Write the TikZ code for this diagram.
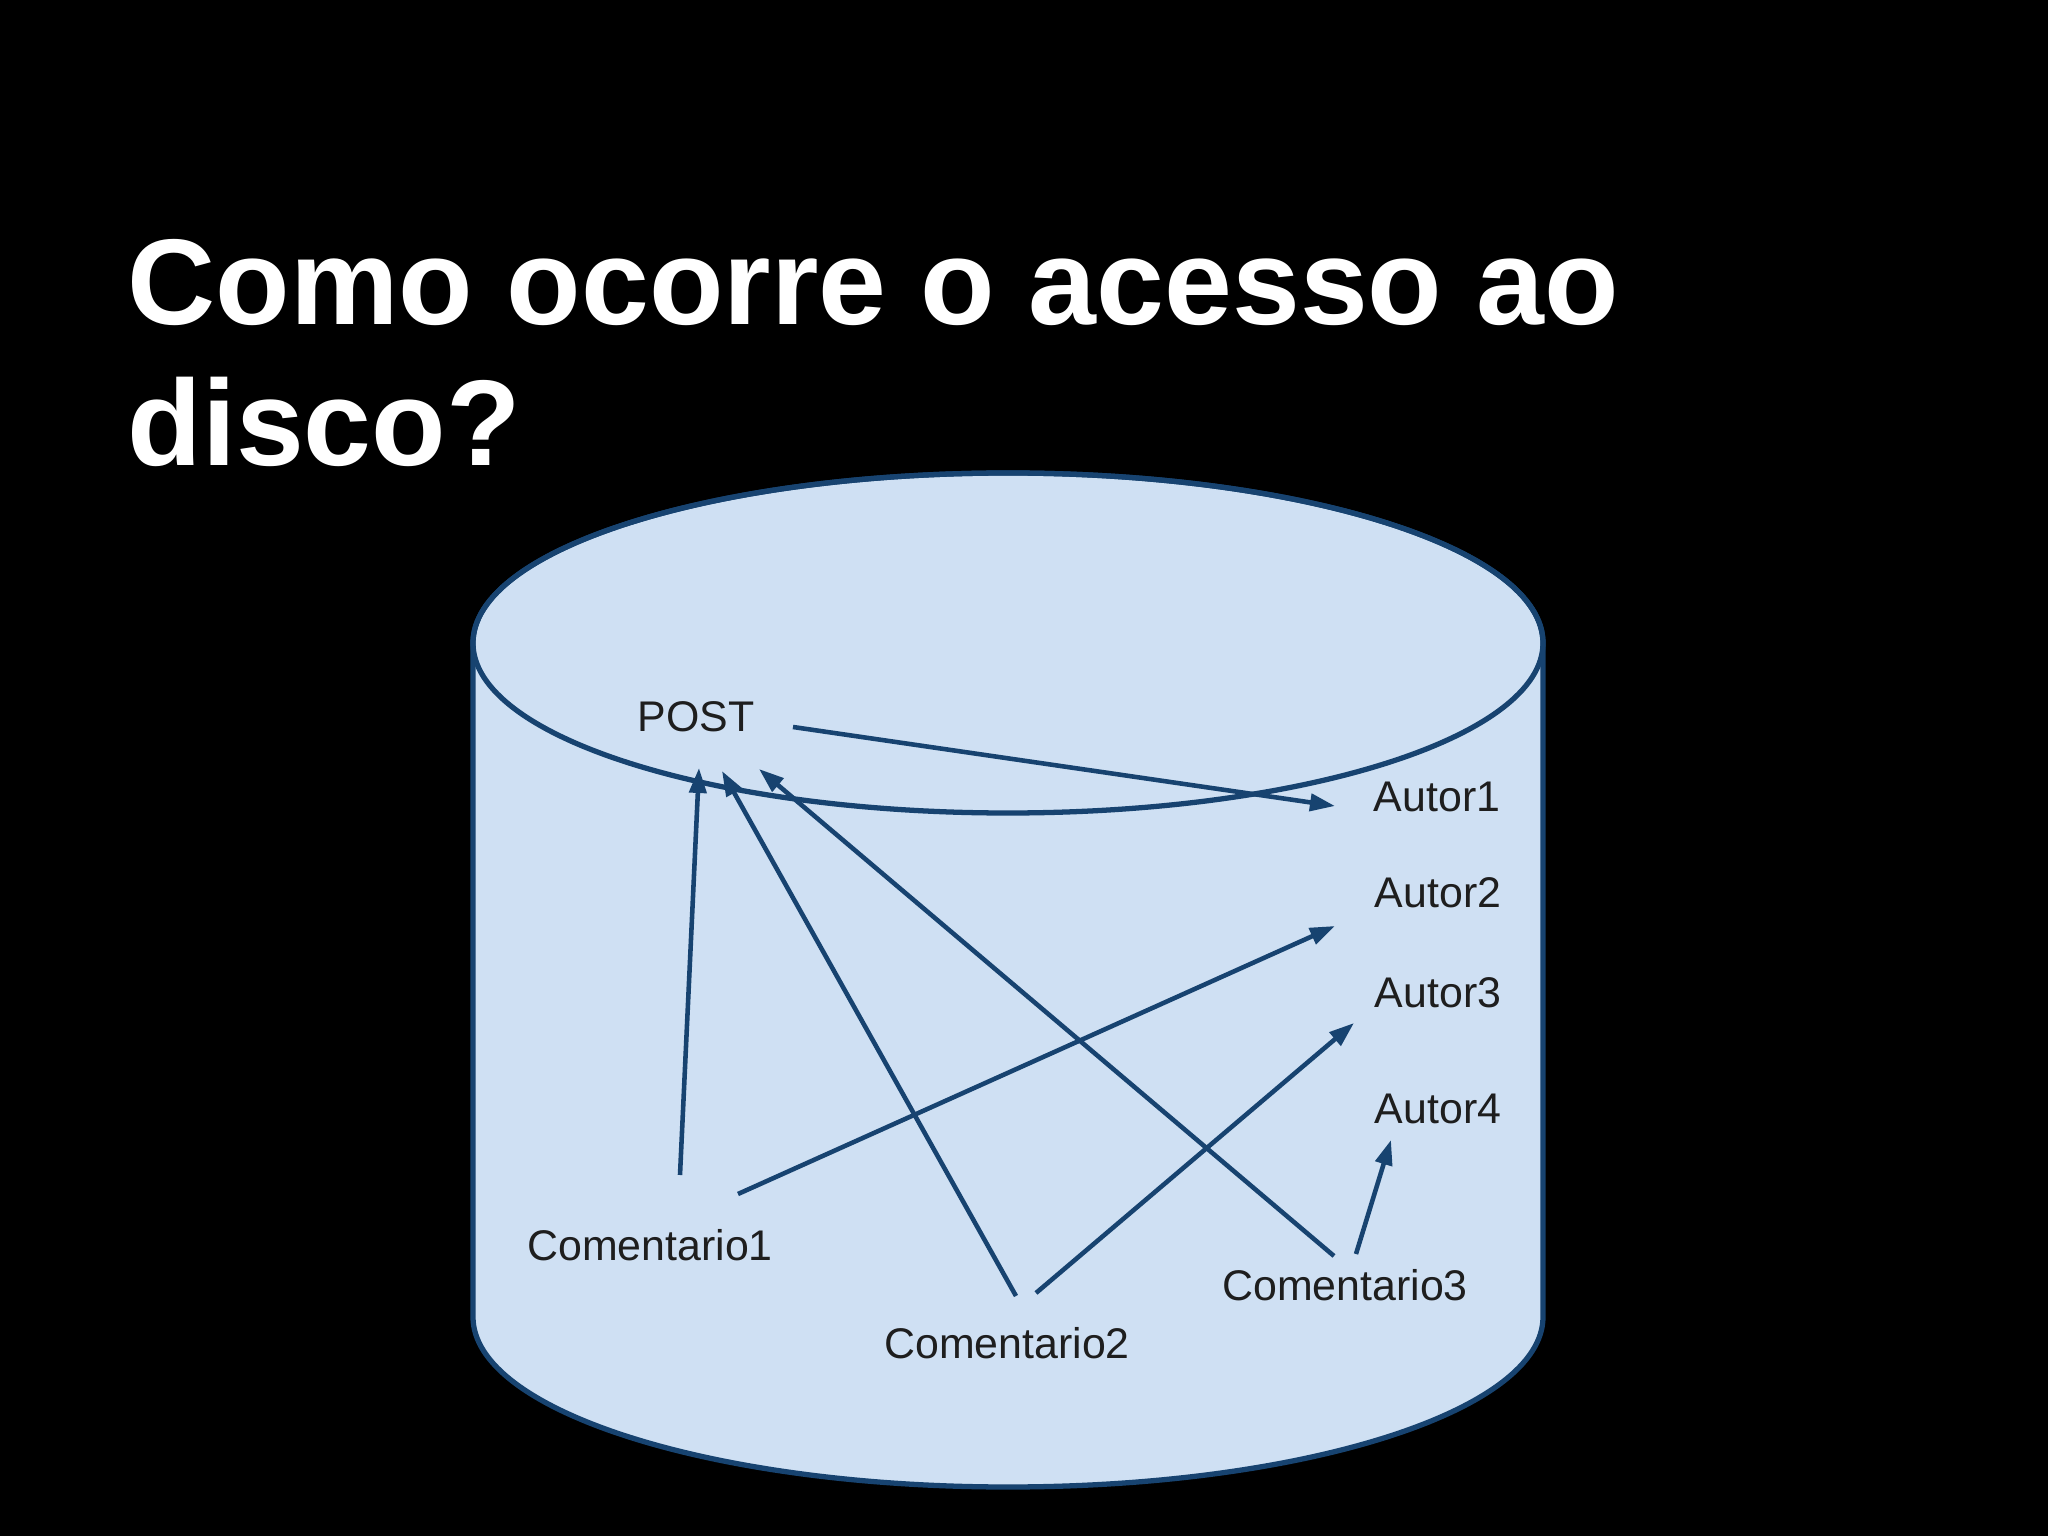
\documentclass[tikz,border=0pt]{standalone}
\usepackage{fontspec}
\setmainfont{Liberation Sans}
\usetikzlibrary{arrows.meta}
\definecolor{diskfill}{RGB}{207,224,243}
\definecolor{diskline}{RGB}{23,67,112}
\definecolor{itemtext}{RGB}{30,30,30}
\tikzset{
  headline/.style={anchor=base west, inner sep=0pt, text=white, font=\fontsize{34.7}{42}\selectfont\bfseries},
  disk/.style={draw=diskline, line width=1.5pt, fill=diskfill},
  diskitem/.style={text=itemtext, font=\fontsize{12.2}{15}\selectfont},
  link/.style={draw=diskline, line width=1.3pt, -{Triangle[length=0.25cm, width=0.17cm]}}
}
\begin{document}
\begin{tikzpicture}
    \fill[black] (0,0) rectangle (20.48,-15.36);
    \useasboundingbox (0,0) rectangle (20.48,-15.36);

    \node[headline] (title1) at (1.27,-3.25) {Como ocorre o acesso ao};
    \node[headline] (title2) at (1.27,-4.66) {disco?};

    \filldraw[disk] (4.73,-6.43) -- (4.73,-13.17)
        arc[start angle=180, end angle=360, x radius=5.35, y radius=1.70]
        -- (15.43,-6.43)
        arc[start angle=0, end angle=180, x radius=5.35, y radius=1.70] -- cycle;
    \draw[disk, fill=none] (10.08,-6.43) ellipse[x radius=5.35, y radius=1.70];

    \node[diskitem] (post) at (6.96,-7.17) {POST};
    \node[diskitem] (autor1) at (14.37,-7.97) {Autor1};
    \node[diskitem] (autor2) at (14.38,-8.93) {Autor2};
    \node[diskitem] (autor3) at (14.38,-9.93) {Autor3};
    \node[diskitem] (autor4) at (14.38,-11.09) {Autor4};
    \node[diskitem] (coment1) at (6.50,-12.45) {Comentario1};
    \node[diskitem] (coment2) at (10.07,-13.43) {Comentario2};
    \node[diskitem] (coment3) at (13.45,-12.85) {Comentario3};

    \draw[link] ([shift={(0.97,-0.10)}]post.center) -- ([shift={(-1.02,-0.09)}]autor1.center);
    \draw[link] ([shift={(0.30,0.70)}]coment1.center) -- ([shift={(0.03,-0.51)}]post.center);
    \draw[link] ([shift={(0.88,0.51)}]coment1.center) -- ([shift={(-1.03,-0.33)}]autor2.center);
    \draw[link] ([shift={(0.09,0.47)}]coment2.center) -- ([shift={(0.26,-0.54)}]post.center);
    \draw[link] ([shift={(0.29,0.50)}]coment2.center) -- ([shift={(-0.84,-0.30)}]autor3.center);
    \draw[link] ([shift={(-0.11,0.29)}]coment3.center) -- ([shift={(0.63,-0.52)}]post.center);
    \draw[link] ([shift={(0.11,0.31)}]coment3.center) -- ([shift={(-0.47,-0.31)}]autor4.center);
\end{tikzpicture}
\end{document}
